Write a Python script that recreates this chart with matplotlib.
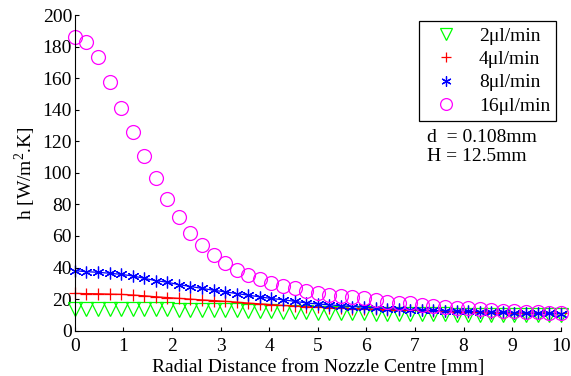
import numpy as np
import matplotlib
matplotlib.use("Agg")
import matplotlib.pyplot as plt

plt.rcParams['font.family'] = ['Liberation Serif', 'DejaVu Serif']
plt.rcParams['mathtext.fontset'] = 'custom'
plt.rcParams['mathtext.rm'] = 'Liberation Serif'

# radial distance [mm], 43 samples from 0 to 10
x = np.linspace(0, 10, 43)

h_2 = [14.0, 14.0, 14.0, 13.9, 13.9, 13.8, 13.7, 13.6, 13.5, 13.4, 13.2,
       13.1, 13.0, 12.9, 12.8, 12.6, 12.4, 12.2, 12.0, 11.8, 11.6,
       11.4, 11.3, 11.2, 11.0, 10.9, 10.8, 10.7, 10.6, 10.5, 10.4,
       10.3, 10.3, 10.2, 10.1, 10.0, 10.0, 9.9, 9.9, 9.8, 9.8, 9.7, 9.7]

h_4 = [23.6, 23.5, 23.4, 23.2, 23.0, 22.6, 22.1, 21.5, 21.0, 20.5, 20.0,
       19.5, 19.1, 18.6, 18.1, 17.5, 17.0, 16.5, 16.0, 15.6, 15.2,
       14.9, 14.6, 14.3, 14.0, 13.8, 13.6, 13.4, 13.2, 13.0, 12.8,
       12.5, 12.3, 12.1, 11.9, 11.7, 11.5, 11.4, 11.3, 11.2, 11.1, 11.0, 10.9]

h_8 = [38.0, 37.4, 37.0, 36.4, 35.7, 34.7, 33.2, 31.7, 30.7, 29.2, 28.0,
       26.8, 25.6, 24.6, 23.5, 22.5, 21.4, 20.4, 19.6, 18.6, 17.6,
       16.9, 16.4, 15.8, 15.3, 14.9, 14.4, 14.0, 13.6, 13.3, 13.0,
       12.8, 12.6, 12.4, 12.2, 12.0, 11.8, 11.6, 11.4, 11.2, 11.0, 10.9, 10.8]

h_16 = [186.3, 183.1, 173.6, 157.4, 141.3, 126.1, 110.9, 96.6, 83.5, 72.2, 61.7,
        54.3, 48.0, 42.7, 38.5, 35.3, 32.6, 30.0, 28.3, 26.9, 25.2,
        23.7, 22.6, 22.0, 21.1, 20.5, 19.5, 18.4, 17.7, 17.4, 16.3,
        15.7, 15.2, 14.6, 14.2, 13.6, 13.1, 12.6, 12.2, 11.9, 11.7, 11.5, 11.4]

labels = ['2μl/min', '4μl/min', '8μl/min', '16μl/min']

fig = plt.figure(figsize=(5.71, 3.76), dpi=100)
ax = fig.add_axes([0.131, 0.1205, 0.851, 0.8395])

ax.plot(x, h_2, ls='none', marker='v', ms=9.5, mfc='none', mec='#00ff00',
        mew=0.9, clip_on=False, label=labels[0])
ax.plot(x, h_4, color='#ff0000', lw=0.9, marker='+', ms=9, mew=0.9,
        clip_on=False, label=labels[1])
ax.plot(x, h_8, color='#0000ff', lw=0.9, marker=(6, 2, 0), ms=8.5, mew=0.9,
        clip_on=False, label=labels[2])
ax.plot(x, h_16, ls='none', marker='o', ms=10, mfc='none', mec='#ff00ff',
        mew=0.9, clip_on=False, label=labels[3])

ax.set_xlim(0, 10)
ax.set_ylim(0, 200)
ax.set_xticks(range(0, 11))
ax.set_yticks(range(0, 201, 20))
ax.tick_params(direction='in', length=3, labelsize=14, width=0.8, pad=2)
ax.tick_params(axis='x', pad=5.5)
ax.spines['top'].set_visible(False)
ax.spines['right'].set_visible(False)
ax.set_xlabel('Radial Distance from Nozzle Centre [mm]', fontsize=14, labelpad=3)
ax.set_ylabel('h [W/m$^2$.K]', fontsize=14, labelpad=3)

leg = ax.legend(loc='upper right', bbox_to_anchor=(0.974, 0.944),
                bbox_transform=fig.transFigure, borderaxespad=0, fontsize=14,
                fancybox=False, edgecolor='black', framealpha=1, borderpad=0.3,
                labelspacing=0.3, handlelength=2.2, handletextpad=0.6,
                markerscale=0.85)
leg.get_frame().set_linewidth(0.9)
for line in leg.get_lines():
    line.set_linestyle('none')

fig.text(0.748, 0.633, 'd  = 0.108mm', fontsize=14, va='center')
fig.text(0.748, 0.583, 'H = 12.5mm', fontsize=14, va='center')

fig.savefig('out.png', dpi=100)
